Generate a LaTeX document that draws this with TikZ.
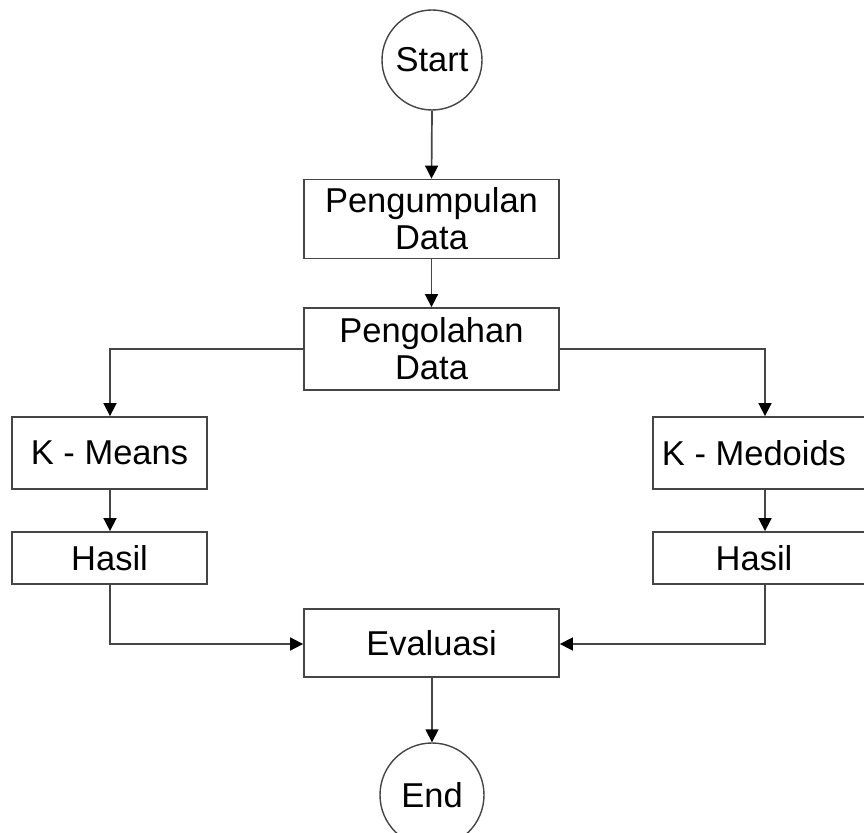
\documentclass[tikz,border=0pt]{standalone}
\usepackage{fontspec}
\setmainfont{Liberation Sans}
\usetikzlibrary{arrows.meta}
\definecolor{linegray}{HTML}{454545}
\begin{document}
\begin{tikzpicture}[x=1pt,y=-1pt,
  box/.style={draw=linegray, line width=1.8pt, rectangle, inner sep=0pt, align=center,
              font=\fontsize{34.5}{37}\selectfont, text=black},
  term/.style={draw=linegray, line width=1.4pt, circle, inner sep=0pt,
              font=\fontsize{34.5}{37}\selectfont, text=black},
  conn/.style={draw=linegray, line width=1.7pt,
              -{Triangle[length=13pt,width=13pt,color=black]}}
]
\useasboundingbox (0,0) rectangle (864,832);
\clip (0,0) rectangle (864,832);
\fill[white] (0,0) rectangle (864,832);

\node[term, minimum size=100pt] (start) at (432,60) {Start};
\node[box, minimum width=255pt, minimum height=79pt] (p1) at (431.5,219) {Pengumpulan\\Data};
\node[box, minimum width=255pt, minimum height=82pt] (p2) at (431.5,349) {Pengolahan\\Data};
\node[box, minimum width=195pt, minimum height=72pt] (km) at (109.5,453) {K - Means};
\node[box, minimum width=224pt, minimum height=72pt] (kd) at (765,453) {};
\node[font=\fontsize{34.5}{37}\selectfont, inner sep=0pt] (kdt) at (754,453) {K - Medoids};
\node[box, minimum width=195pt, minimum height=52pt] (h1) at (109.5,558) {Hasil};
\node[box, minimum width=224pt, minimum height=52pt] (h2) at (765,558) {};
\node[font=\fontsize{34.5}{37}\selectfont, inner sep=0pt] (h2t) at (754,558) {Hasil};
\node[box, minimum width=255pt, minimum height=68pt] (ev) at (431.5,643) {Evaluasi};
\node[term, minimum size=104pt] (end) at (432,795) {End};

\coordinate (c1) at (110,349);
\coordinate (c2) at (765,349);
\coordinate (c3) at (110,644);
\coordinate (c4) at (765,644);

\draw[conn] (start.south) -- (p1.north);
\draw[conn] (p1.south) -- (p2.north);
\draw[conn] (p2.west) -- (c1) -- (km.north -| c1);
\draw[conn] (p2.east) -- (c2) -- (kd.north);
\draw[conn] (km.south -| c1) -- (h1.north -| c1);
\draw[conn] (kd.south) -- (h2.north);
\draw[conn] (h1.south -| c3) -- (c3) -- (ev.west |- c3);
\draw[conn] (h2.south) -- (c4) -- (ev.east |- c4);
\draw[conn] (ev.south -| end.north) -- (end.north);
\end{tikzpicture}
\end{document}
